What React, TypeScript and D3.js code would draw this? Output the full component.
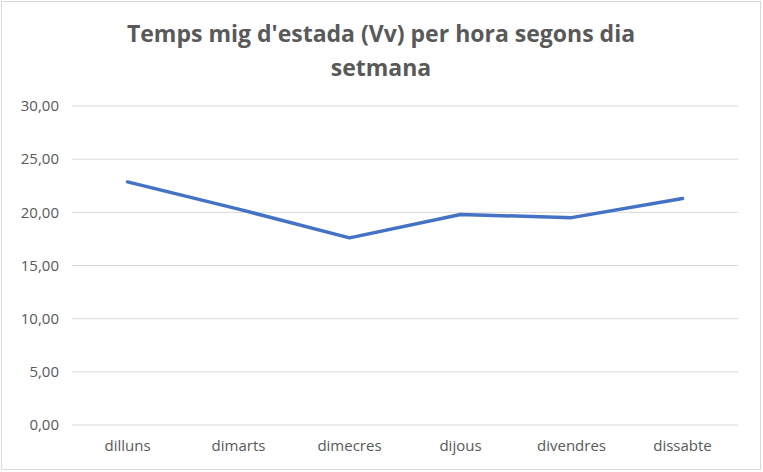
import React from 'react';
import * as d3 from 'd3';

const categories = ['dilluns', 'dimarts', 'dimecres', 'dijous', 'divendres', 'dissabte'];
const values = [22.86, 20.3, 17.6, 19.8, 19.5, 21.3];
const yTicks = [0, 5, 10, 15, 20, 25, 30];
const titleLines = ["Temps mig d'estada (Vv) per hora segons dia", 'setmana'];

const W = 763;
const H = 472;
const margin = { left: 72, right: 25, top: 106, bottom: 47 };

const App: React.FC = () => {
  const x = d3.scaleBand<string>()
    .domain(categories)
    .range([margin.left, W - margin.right]);

  const y = d3.scaleLinear()
    .domain([0, 30])
    .range([H - margin.bottom, margin.top]);

  const line = d3.line<number>()
    .x((_, i) => (x(categories[i]) as number) + x.bandwidth() / 2)
    .y(d => y(d));

  const fmt = (v: number) => v.toFixed(2).replace('.', ',');
  const font = "'Open Sans', 'Liberation Sans', sans-serif";

  return (
    <div style={{ position: 'absolute', left: 0, top: 0 }}>
      <svg width={W} height={H} style={{ display: 'block', fontFamily: font }}>
        <rect x={0} y={0} width={W} height={H} fill="#ffffff" />
        <rect x={1.5} y={1.5} width={W - 4} height={H - 4} fill="none" stroke="#d9d9d9" strokeWidth={1} />

        {/* title */}
        {titleLines.map((t, i) => (
          <text key={i} x={381} y={42 + i * 34} textAnchor="middle"
            fontSize={23} fontWeight="bold" fill="#595959">{t}</text>
        ))}

        {/* gridlines + y labels */}
        {yTicks.map(t => (
          <g key={t}>
            <line x1={margin.left} x2={W - margin.right} y1={y(t)} y2={y(t)}
              stroke="#d9d9d9" strokeWidth={1} />
            <text x={59} y={y(t)} dy="0.35em" textAnchor="end" fontSize={15} fill="#595959">
              {fmt(t)}
            </text>
          </g>
        ))}

        {/* x labels */}
        {categories.map(c => (
          <text key={c} x={(x(c) as number) + x.bandwidth() / 2} y={H - margin.bottom + 26}
            textAnchor="middle" fontSize={15} fill="#595959">{c}</text>
        ))}

        {/* series */}
        <path d={line(values) || ''} fill="none" stroke="#4472c4" strokeWidth={3.5}
          strokeLinecap="round" strokeLinejoin="round" />
      </svg>
    </div>
  );
};

export default App;
